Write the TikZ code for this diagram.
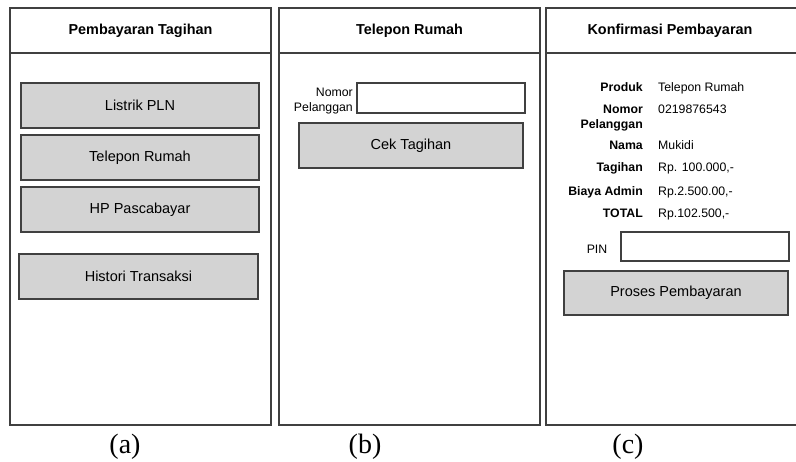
\documentclass[tikz,border=0pt]{standalone}
\usepackage{fontspec}
\setmainfont{Liberation Sans}
\newfontfamily\capfont{Liberation Serif}
\definecolor{frame}{HTML}{404040}
\definecolor{btnfill}{HTML}{D3D3D3}
\begin{document}
\begin{tikzpicture}[x=1pt,y=-1pt,
  panel/.style={draw=frame,line width=1.2pt},
  title/.style={font=\fontsize{14.4}{16}\selectfont\bfseries,anchor=center},
  btn/.style={draw=frame,fill=btnfill,line width=1.2pt},
  btntext/.style={font=\fontsize{14.5}{16}\selectfont,anchor=center},
  field/.style={draw=frame,fill=white,line width=1.2pt},
  lbl/.style={font=\fontsize{12.3}{13.5}\selectfont\bfseries,anchor=base east,inner sep=0pt},
  val/.style={font=\fontsize{12.3}{13.5}\selectfont,anchor=base west,inner sep=0pt},
  small/.style={font=\fontsize{12.3}{13.5}\selectfont,inner sep=0pt},
  caption/.style={font=\capfont\fontsize{28}{30}\selectfont,anchor=center}]
\useasboundingbox (0,0) rectangle (796,461);
\fill[white] (0,0) rectangle (796,461);

% panel (a): Pembayaran Tagihan
\draw[panel] (10,8) rectangle (271,425);
\draw[panel] (10,53) -- (271,53);
\node[title] (ta) at (140.5,30.5) {Pembayaran Tagihan};
\draw[btn] (21,83) rectangle (259,128);
\node[btntext] (b1) at (140,105.5) {Listrik PLN};
\draw[btn] (21,135) rectangle (259,180);
\node[btntext] (b2) at (140,157.5) {Telepon Rumah};
\draw[btn] (21,187) rectangle (259,232);
\node[btntext] (b3) at (140,209.5) {HP Pascabayar};
\draw[btn] (19,254) rectangle (258,299);
\node[btntext] (b4) at (138.5,276.5) {Histori Transaksi};

% panel (b): Telepon Rumah
\draw[panel] (279,8) rectangle (540,425);
\draw[panel] (279,53) -- (540,53);
\node[title] (tb) at (409.5,30.5) {Telepon Rumah};
\draw[field] (357,83) rectangle (525,113);
\node[small,anchor=base east] (nb1) at (353,96) {Nomor};
\node[small,anchor=base east] (nb2) at (353,111) {Pelanggan};
\draw[btn] (299,123) rectangle (523,168);
\node[btntext] (cek) at (411,145.5) {Cek Tagihan};

% panel (c): Konfirmasi Pembayaran
\draw[panel] (546,8) rectangle (800,425);
\draw[panel] (546,53) -- (800,53);
\node[title] (tc) at (670,30.5) {Konfirmasi Pembayaran};
\node[lbl] (l1) at (643,91) {Produk};
\node[val] (v1) at (658,91) {Telepon Rumah};
\node[lbl] (l2) at (643,113) {Nomor};
\node[lbl] (l2b) at (643,128) {Pelanggan};
\node[val] (v2) at (658,113) {0219876543};
\node[lbl] (l3) at (643,149) {Nama};
\node[val] (v3) at (658,149) {Mukidi};
\node[lbl] (l4) at (643,171) {Tagihan};
\node[val] (v4) at (658,171) {Rp. 100.000,-};
\node[lbl] (l5) at (643,195) {Biaya Admin};
\node[val] (v5) at (658,195) {Rp.2.500.00,-};
\node[lbl] (l6) at (643,217) {TOTAL};
\node[val] (v6) at (658,217) {Rp.102.500,-};
\node[small,anchor=center] (pin) at (597,249) {PIN};
\draw[field] (621,232) rectangle (789,261);
\draw[btn] (564,271) rectangle (788,315);
\node[btntext] (proses) at (676,293) {Proses Pembayaran};

% captions
\node[caption] (ca) at (125,447) {(a)};
\node[caption] (cb) at (365,447) {(b)};
\node[caption] (cc) at (628,447) {(c)};
\end{tikzpicture}
\end{document}
